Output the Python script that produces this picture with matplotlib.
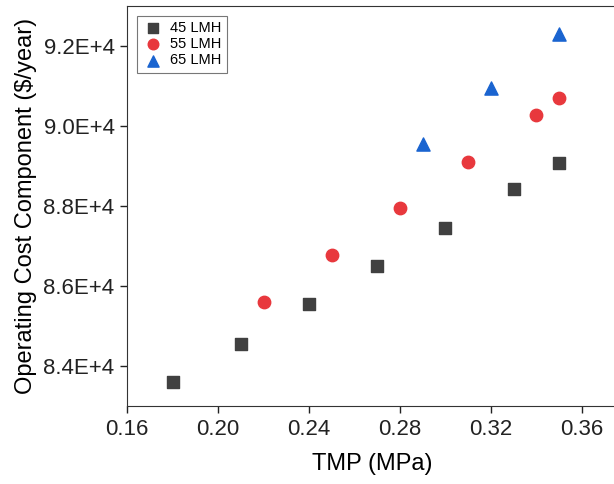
import matplotlib
matplotlib.use("Agg")
import matplotlib.pyplot as plt

plt.rcParams["font.family"] = ["Liberation Sans", "DejaVu Sans"]

tmp_45 = [0.18, 0.21, 0.24, 0.27, 0.30, 0.33, 0.35]
cost_45 = [83600, 84550, 85550, 86500, 87450, 88420, 89070]

tmp_55 = [0.22, 0.25, 0.28, 0.31, 0.34, 0.35]
cost_55 = [85600, 86770, 87950, 89100, 90280, 90700]

tmp_65 = [0.29, 0.32, 0.35]
cost_65 = [89550, 90950, 92300]

x_ticks = [0.16, 0.20, 0.24, 0.28, 0.32, 0.36]
y_ticks = [84000, 86000, 88000, 90000, 92000]


def main():
    fig = plt.figure(figsize=(6.14, 4.84), dpi=100)
    ax = fig.add_axes([0.207, 0.161, 0.80, 0.827])

    ax.scatter(tmp_45, cost_45, marker="s", s=70, color="#404040", label="45 LMH")
    ax.scatter(tmp_55, cost_55, marker="o", s=80, color="#e8383d", label="55 LMH")
    ax.scatter(tmp_65, cost_65, marker="^", s=90, color="#1a64d0", label="65 LMH")

    ax.set_xlim(0.16, 0.376)
    ax.set_ylim(83000, 93000)
    ax.set_xticks(x_ticks)
    ax.set_xticklabels([f"{t:.2f}" for t in x_ticks])
    ax.set_yticks(y_ticks)
    ax.set_yticklabels([f"{v / 1e4:.1f}E+4" for v in y_ticks])
    ax.tick_params(direction="out", length=5, width=1, labelsize=16, colors="#222222", pad=4)
    ax.spines["right"].set_visible(False)
    for side in ("left", "bottom", "top"):
        ax.spines[side].set_color("#333333")

    ax.set_xlabel("TMP (MPa)", fontsize=17, labelpad=10)
    ax.set_ylabel("Operating Cost Component ($/year)", fontsize=17, labelpad=5)

    leg = ax.legend(loc="upper left", fontsize=10.5, fancybox=False, edgecolor="#555555",
                    handletextpad=0.5, borderpad=0.35, labelspacing=0.15,
                    handlelength=1.4, borderaxespad=0.7, markerscale=0.85)
    leg.get_frame().set_linewidth(0.8)

    fig.savefig("out.png", dpi=100)


if __name__ == "__main__":
    main()
